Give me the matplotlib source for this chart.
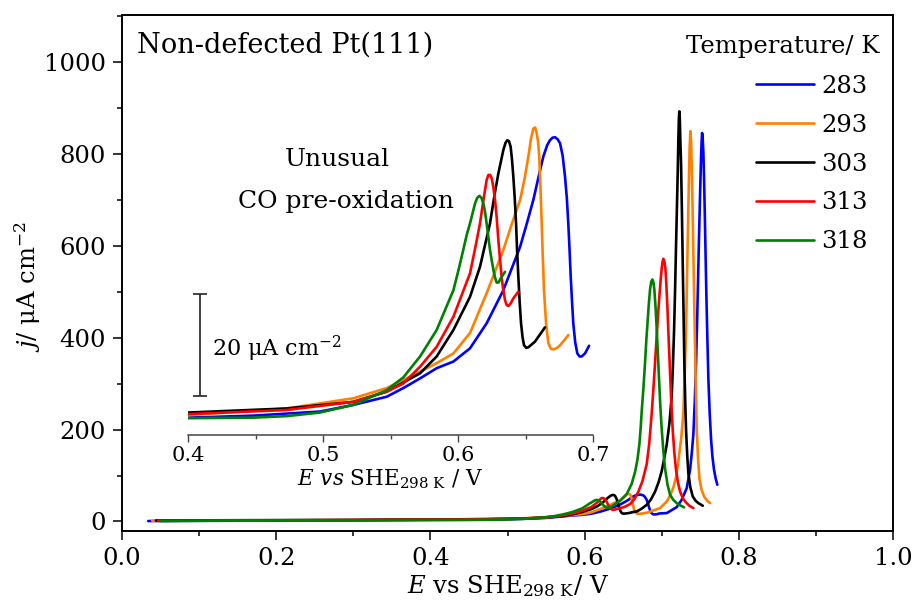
import matplotlib
matplotlib.use("Agg")
import matplotlib.pyplot as plt
from matplotlib.ticker import MultipleLocator, FormatStrFormatter

plt.rcParams["font.family"] = ["DejaVu Serif"]
plt.rcParams["mathtext.fontset"] = "dejavuserif"

# CO stripping sweeps on Pt(111) at several temperatures (E in V, j in uA cm^-2)
temperatures = ["283", "293", "303", "313", "318"]
colors = ["#0000ff", "#ff8000", "#000000", "#ff0000", "#008000"]

E_283 = [0.034, 0.10, 0.20, 0.30, 0.40, 0.4484, 0.4731, 0.4978, 0.5225, 0.5472, 0.5595,
         0.5719, 0.5842, 0.5966, 0.6089, 0.6212, 0.6336, 0.646, 0.651, 0.6558, 0.660,
         0.6632, 0.666, 0.6681, 0.670, 0.6719, 0.6738, 0.6756, 0.6775, 0.6793, 0.6806,
         0.6817, 0.6826, 0.6835, 0.6845, 0.6854, 0.6868, 0.6884, 0.690, 0.6916, 0.6941,
         0.6971, 0.7065, 0.7194, 0.7259, 0.7324, 0.7367, 0.739, 0.741, 0.7428, 0.7445,
         0.7458, 0.7471, 0.7482, 0.7493, 0.7502, 0.751, 0.7517, 0.7523, 0.753, 0.754,
         0.7549, 0.7558, 0.7568, 0.7579, 0.7592, 0.7605, 0.7622, 0.764, 0.7658, 0.7678,
         0.770, 0.7721]
j_283 = [1.0, 1.5, 2.0, 2.5, 3.4, 3.8, 4.2, 4.6, 5.9, 7.5, 9.2,
         11.1, 13.1, 14.4, 17.0, 21.9, 28.4, 36.9, 41.5, 46.1, 51.0,
         54.6, 56.8, 57.8, 58.3, 58.4, 58.0, 57.2, 54.8, 50.6, 46.5,
         41.5, 36.5, 31.0, 26.0, 21.9, 18.2, 16.0, 15.4, 15.4, 16.0,
         17.5, 18.3, 31.3, 47.3, 72.7, 112.6, 150, 190, 260, 345,
         430, 527, 610, 686, 745, 795, 827, 846, 838, 803,
         745, 672, 585, 490, 395, 309, 235, 178, 140, 112.6,
         93, 80]

E_293 = [0.039, 0.10, 0.20, 0.30, 0.40, 0.4731, 0.5225, 0.5472, 0.5719, 0.5842, 0.5966,
         0.6089, 0.6212, 0.6336, 0.640, 0.646, 0.6495, 0.6521, 0.654, 0.6558, 0.6572,
         0.6583, 0.6593, 0.6602, 0.6611, 0.662, 0.6628, 0.6637, 0.6652, 0.6669, 0.6688,
         0.6707, 0.673, 0.6756, 0.6785, 0.6817, 0.6978, 0.7065, 0.711, 0.7151, 0.719,
         0.722, 0.7252, 0.728, 0.7298, 0.7315, 0.7326, 0.7337, 0.7346, 0.7354, 0.7362,
         0.7371, 0.738, 0.7389, 0.7399, 0.741, 0.7421, 0.7432, 0.7443, 0.7454, 0.747,
         0.7488, 0.7515, 0.7549, 0.759, 0.7626]
j_293 = [1.5, 2.0, 2.5, 3.0, 3.9, 5.2, 7.2, 9.2, 12.4, 14.1, 16.0,
         20.0, 27.8, 36.3, 41.5, 46.1, 50.5, 54.6, 58.0, 60.1, 60.3,
         59.2, 57.5, 54.6, 48.5, 41.5, 35.0, 28.4, 22.0, 18.0, 16.9,
         16.8, 17.0, 17.6, 18.5, 19.6, 29.2, 43.6, 57, 74, 100,
         138, 180, 236, 320, 418, 515, 614, 690, 759, 815,
         850, 830, 773, 690, 585, 480, 381, 285, 200, 140,
         94.5, 70, 54.5, 45, 40]

E_303 = [0.044, 0.10, 0.20, 0.30, 0.40, 0.4731, 0.5225, 0.5472, 0.5719, 0.5842, 0.5966,
         0.6089, 0.6163, 0.6237, 0.627, 0.6299, 0.6336, 0.6352, 0.6365, 0.6378, 0.639,
         0.640, 0.641, 0.642, 0.643, 0.6438, 0.6447, 0.6457, 0.6467, 0.6478, 0.6489,
         0.6505, 0.6521, 0.657, 0.6644, 0.6676, 0.674, 0.6805, 0.686, 0.6913, 0.696,
         0.700, 0.7035, 0.7065, 0.710, 0.7129, 0.7145, 0.716, 0.7173, 0.7185, 0.7197,
         0.7207, 0.7215, 0.7222, 0.7228, 0.7234, 0.7241, 0.725, 0.7261, 0.7272, 0.7283,
         0.7293, 0.7304, 0.7315, 0.733, 0.7345, 0.737, 0.7402, 0.744, 0.7475, 0.7532]
j_303 = [2.0, 2.5, 3.0, 3.5, 4.4, 5.2, 6.5, 8.5, 12.1, 15.4, 20.6,
         27.1, 33.0, 41.5, 47.0, 51.3, 55.9, 57.3, 57.8, 57.6, 56.5,
         54.0, 50.6, 46.5, 41.5, 36.0, 31.0, 26.0, 21.9, 19.2, 17.6,
         17.1, 17.2, 18.3, 21.1, 21.8, 28, 36.3, 48, 65, 86,
         110, 140, 168, 215, 272, 340, 418, 505, 599, 685,
         759, 830, 878, 893, 878, 830, 781, 680, 563, 450,
         345, 265, 200, 145, 105, 75, 54.5, 45, 40, 34.3]

E_313 = [0.047, 0.10, 0.20, 0.30, 0.40, 0.4731, 0.5225, 0.5472, 0.5595, 0.5719, 0.5842,
         0.5966, 0.6089, 0.613, 0.6163, 0.6185, 0.620, 0.6212, 0.6225, 0.6238, 0.625,
         0.6262, 0.6274, 0.6287, 0.6299, 0.6311, 0.6323, 0.6335, 0.6348, 0.636, 0.6373,
         0.639, 0.641, 0.6447, 0.652, 0.659, 0.665, 0.6697, 0.675, 0.6805, 0.6838,
         0.687, 0.6898, 0.6926, 0.6948, 0.6969, 0.6985, 0.700, 0.7011, 0.7021, 0.7034,
         0.7047, 0.706, 0.7073, 0.709, 0.7108, 0.7125, 0.7142, 0.7163, 0.7185, 0.721,
         0.7237, 0.7275, 0.7315, 0.736, 0.741]
j_313 = [1.5, 2.0, 2.5, 3.0, 4.1, 4.9, 6.5, 8.5, 10.1, 13.4, 17.3,
         23.2, 31.7, 37.0, 41.5, 45.5, 48.0, 50.0, 51.0, 51.0, 50.3,
         48.6, 46.1, 42.5, 38.2, 34.5, 31.0, 28.5, 26.5, 25.5, 25.3,
         25.8, 26.8, 28.1, 32, 38, 50, 65, 88, 125, 170,
         236, 305, 381, 440, 490, 525, 552, 566, 572, 566,
         552, 515, 468, 395, 323, 255, 200, 150, 112.6, 85,
         65.4, 50, 41.4, 34, 29.2]

E_318 = [0.050, 0.10, 0.20, 0.30, 0.40, 0.4484, 0.4731, 0.4978, 0.5225, 0.5472, 0.5595,
         0.5719, 0.5842, 0.5966, 0.6005, 0.6039, 0.6065, 0.6089, 0.611, 0.6126, 0.6142,
         0.6158, 0.6174, 0.6188, 0.620, 0.6212, 0.6225, 0.6237, 0.625, 0.6262, 0.6274,
         0.6286, 0.630, 0.6316, 0.6348, 0.6373, 0.646, 0.6546, 0.661, 0.6654, 0.6685,
         0.671, 0.6727, 0.674, 0.6762, 0.6783, 0.680, 0.6818, 0.6833, 0.6848, 0.6863,
         0.6878, 0.6891, 0.6904, 0.692, 0.6935, 0.695, 0.6965, 0.6982, 0.700, 0.702,
         0.7043, 0.7075, 0.7108, 0.715, 0.7194, 0.724, 0.7289]
j_318 = [1.0, 1.5, 2.0, 2.5, 3.3, 3.4, 3.7, 4.4, 5.9, 8.8, 11.3,
         15.4, 20.6, 28.4, 32.5, 36.3, 39.3, 41.5, 43.7, 45.4, 46.5,
         46.9, 46.5, 45.4, 43.8, 41.5, 38.8, 36.3, 34.2, 32.4, 30.9,
         29.9, 29.9, 30.7, 32.0, 36, 45, 60, 82, 108, 135,
         168, 205, 240, 290, 345, 395, 439, 475, 505, 522,
         527, 522, 505, 465, 418, 365, 309, 250, 200, 155,
         115, 80, 58, 47, 40, 35, 31]

# last potential shown in the pre-oxidation close-up, per temperature
inset_E_end = [0.6971, 0.6817, 0.6644, 0.6447, 0.6348]

potentials = [E_283, E_293, E_303, E_313, E_318]
currents = [j_283, j_293, j_303, j_313, j_318]

scale_bar_value = 20

fig = plt.figure(figsize=(9.14, 6.06), dpi=100)
ax = fig.add_axes([0.1335, 0.1243, 0.8436, 0.851])

lines = []
for E, j, c, T in zip(potentials, currents, colors, temperatures):
    ln, = ax.plot(E, j, color=c, lw=1.9, label=T,
                  solid_joinstyle="round", solid_capstyle="round")
    lines.append(ln)

ax.set_xlim(0.0, 1.0)
ax.set_ylim(-20, 1103)
ax.xaxis.set_major_locator(MultipleLocator(0.2))
ax.xaxis.set_minor_locator(MultipleLocator(0.1))
ax.yaxis.set_major_locator(MultipleLocator(200))
ax.yaxis.set_minor_locator(MultipleLocator(100))
ax.xaxis.set_major_formatter(FormatStrFormatter("%.1f"))
for s in ax.spines.values():
    s.set_linewidth(1.4)
ax.tick_params(which="both", direction="out", top=False, right=False, width=1.1)
ax.tick_params(which="major", length=6.5, labelsize=17.5, pad=5)
ax.tick_params(which="minor", length=3.5)

ax.set_xlabel(r"$E$ vs SHE$_{298\ \mathrm{K}}$/ V", fontsize=17.5)
ax.set_ylabel(r"$j$/ μA cm$^{-2}$", fontsize=17.5)
ax.xaxis.set_label_coords(0.5, -0.082)
ax.yaxis.set_label_coords(-0.102, 0.473)

ax.text(0.0195, 0.927, "Non-defected Pt(111)", transform=ax.transAxes,
        fontsize=19.5, ha="left", va="baseline")
ax.text(0.982, 0.927, "Temperature/ K", transform=ax.transAxes,
        fontsize=17.5, ha="right", va="baseline")

ax.legend(handles=lines, frameon=False, loc="upper right",
          bbox_to_anchor=(868 / 914, 1 - 75 / 606), bbox_transform=fig.transFigure,
          fontsize=17.5, handlelength=2.4, handletextpad=0.3, labelspacing=0.65,
          borderpad=0, borderaxespad=0)

# close-up of the pre-oxidation feature
axi = fig.add_axes([0.2057, 0.2822, 0.4431, 0.589])
axi.patch.set_alpha(0)
for E, j, c, end in zip(potentials, currents, colors, inset_E_end):
    Ei = [e for e in E if e <= end + 1e-9]
    ji = j[:len(Ei)]
    axi.plot(Ei, ji, color=c, lw=1.9, solid_joinstyle="round", solid_capstyle="round")
axi.set_xlim(0.4, 0.7)
axi.set_ylim(0, 70)
for side in ["left", "right", "top"]:
    axi.spines[side].set_visible(False)
axi.spines["bottom"].set_color("#444444")
axi.spines["bottom"].set_linewidth(1.1)
axi.set_yticks([])
axi.xaxis.set_major_locator(MultipleLocator(0.1))
axi.xaxis.set_minor_locator(MultipleLocator(0.05))
axi.tick_params(which="both", direction="out", color="#444444", width=1.0)
axi.tick_params(which="major", length=5, labelsize=15, pad=3)
axi.tick_params(which="minor", length=3)
axi.set_xlabel(r"$E$ $vs$ SHE$_{298\ \mathrm{K}}$ / V", fontsize=15.5, labelpad=2)

bar_x = 0.4089
bar_bottom = 7.7
axi.errorbar([bar_x], [bar_bottom + scale_bar_value / 2], yerr=scale_bar_value / 2,
             fmt="none", ecolor="#333333", elinewidth=1.3, capsize=5, capthick=1.3)
axi.text(0.4176, 15.4, "%d μA cm$^{-2}$" % scale_bar_value, fontsize=16,
         ha="left", va="baseline")

axi.text(0.5107, 52.7, "Unusual", fontsize=18, ha="center", va="baseline")
axi.text(0.5173, 44.5, "CO pre-oxidation", fontsize=18, ha="center", va="baseline")

fig.savefig("out.png", dpi=100)
